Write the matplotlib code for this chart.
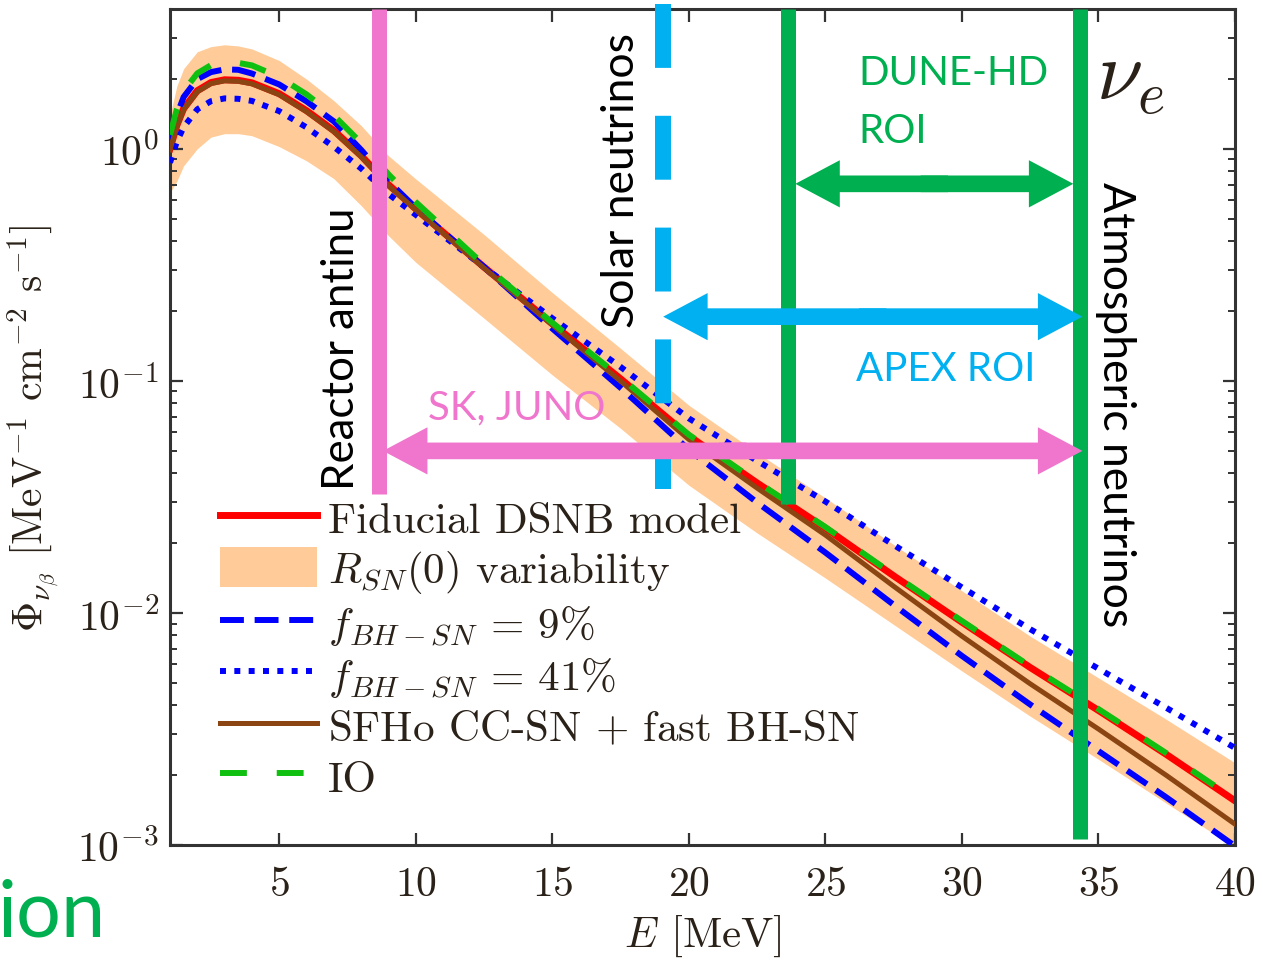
import matplotlib
matplotlib.use("Agg")
import matplotlib.pyplot as plt
from matplotlib.patches import FancyArrowPatch
from matplotlib.ticker import LogLocator, NullFormatter

plt.rcParams["font.family"] = "serif"
plt.rcParams["font.serif"] = ["cmr10"]
plt.rcParams["mathtext.fontset"] = "cm"
plt.rcParams["axes.formatter.use_mathtext"] = True

# energy grid [MeV]
energy = [1, 1.25, 1.5, 2, 2.5, 3, 3.5, 4, 5, 6, 7, 8, 9, 10, 12.5, 15,
          17.5, 20, 22.5, 25, 27.5, 30, 32.5, 35, 37.5, 40]

# nu_e flux [MeV^-1 cm^-2 s^-1]
fiducial = [1.00, 1.26, 1.489, 1.778, 1.928, 1.982, 1.972, 1.923, 1.726, 1.459,
            1.197, 0.933, 0.700, 0.550, 0.309, 0.176, 0.102, 0.0579, 0.0363,
            0.0232, 0.01445, 0.00912, 0.00582, 0.00380, 0.00245, 0.00155]
band_hi = [1.387, 1.862, 2.213, 2.618, 2.754, 2.805, 2.773, 2.692, 2.399, 1.995,
           1.611, 1.259, 0.933, 0.741, 0.427, 0.240, 0.138, 0.0785, 0.0490,
           0.0313, 0.0197, 0.01245, 0.00794, 0.00525, 0.00347, 0.00226]
band_lo = [0.646, 0.724, 0.845, 1.0, 1.122, 1.161, 1.161, 1.138, 1.021, 0.887,
           0.743, 0.569, 0.422, 0.324, 0.186, 0.106, 0.0624, 0.0355, 0.0221,
           0.01413, 0.00891, 0.00562, 0.00359, 0.00234, 0.00151, 0.000977]
fbh_9 = [1.096, 1.396, 1.671, 1.995, 2.138, 2.198, 2.188, 2.109, 1.892, 1.600,
         1.312, 0.989, 0.724, 0.556, 0.309, 0.168, 0.0933, 0.0505, 0.0299,
         0.0182, 0.01084, 0.00653, 0.00403, 0.00254, 0.00160, 0.000989]
fbh_41 = [0.871, 1.072, 1.239, 1.479, 1.603, 1.648, 1.641, 1.607, 1.452, 1.236,
          1.019, 0.822, 0.638, 0.519, 0.309, 0.186, 0.1148, 0.0689, 0.0452,
          0.0302, 0.01963, 0.01288, 0.00851, 0.00575, 0.00389, 0.00262]
sfho = [0.99, 1.25, 1.474, 1.760, 1.909, 1.962, 1.952, 1.904, 1.709, 1.444,
        1.185, 0.924, 0.693, 0.545, 0.306, 0.174, 0.0997, 0.0559, 0.0345,
        0.02165, 0.01303, 0.00794, 0.00495, 0.00316, 0.00199, 0.00123]
io = [1.148, 1.479, 1.770, 2.113, 2.291, 2.355, 2.344, 2.286, 2.037, 1.714,
      1.390, 1.059, 0.776, 0.589, 0.316, 0.178, 0.1035, 0.0586, 0.0367,
      0.02344, 0.01462, 0.00923, 0.00589, 0.00385, 0.00248, 0.00157]

# detection windows: energy [MeV], lower end of the marker line
reactor_E, reactor_low = 8.66, 0.0326
solar_E, solar_low = 19.06, 0.0342
dune_E, dune_low = 23.64, 0.0295
atmo_E, atmo_low = 34.33, 0.00106

# ROI arrows: (E_left, E_right, flux level)
dune_roi = (23.9, 34.08, 0.706)
apex_roi = (19.06, 34.41, 0.189)
sk_roi = (8.80, 34.41, 0.0499)

PINK = "#EF76CC"
CYAN = "#00B0F0"
GREEN = "#00B050"
INK = "#2a2119"

fig = plt.figure(figsize=(12.63, 9.62), dpi=100)
ax = fig.add_axes([170 / 1263, 1 - 846 / 962, 1065 / 1263, 836 / 962])

ax.fill_between(energy, band_lo, band_hi, color="#FFCC99", lw=0,
                label=r"$R_{SN}(0)$ variability", zorder=1)
l_fid, = ax.plot(energy, fiducial, color="#FF0000", lw=5, zorder=2,
                 label="Fiducial DSNB model")
l_9, = ax.plot(energy, fbh_9, color="#0000FF", lw=4.3, dashes=(4.0, 1.8),
               zorder=3, label=r"$f_{BH-SN}\,=\,9\%$")
l_41, = ax.plot(energy, fbh_41, color="#0000FF", lw=4.3, dashes=(1, 1.4),
                zorder=3, label=r"$f_{BH-SN}\,=\,41\%$")
l_sf, = ax.plot(energy, sfho, color="#8B4513", lw=3.6, zorder=4,
                label="SFHo CC-SN $+$ fast BH-SN")
l_io, = ax.plot(energy, io, color="#10C010", lw=4.3, dashes=(4.5, 5),
                zorder=5, label="IO")

ax.set_yscale("log")
ax.set_xlim(1, 40)
ax.set_ylim(1e-3, 4)
ax.set_xticks([5, 10, 15, 20, 25, 30, 35, 40])
ax.yaxis.set_major_locator(LogLocator(base=10, numticks=10))
ax.yaxis.set_minor_locator(LogLocator(base=10, subs=range(2, 10), numticks=20))
ax.yaxis.set_minor_formatter(NullFormatter())
ax.tick_params(which="both", direction="in", top=True, right=True,
               colors="#333333", labelcolor=INK, labelsize=30)
ax.tick_params(which="major", length=9, width=1.6)
ax.tick_params(which="minor", length=5, width=1.4)
ax.tick_params(axis="x", pad=15)
ax.tick_params(axis="y", pad=8)
for sp in ax.spines.values():
    sp.set_linewidth(2.2)
    sp.set_color("#333333")

ax.set_xlabel(r"$E$ [MeV]", fontsize=31, color=INK, labelpad=7)
ax.set_ylabel(r"$\Phi_{\nu_\beta}$ [MeV$^{-1}$ cm$^{-2}$ s$^{-1}$]",
              fontsize=30, color=INK, labelpad=10)

handles = [l_fid, ax.collections[0], l_9, l_41, l_sf, l_io]
leg = ax.legend(handles=handles, loc="upper left",
                bbox_to_anchor=(0.047, 0.416), frameon=False, fontsize=31,
                handlelength=2.25, handleheight=1.05, handletextpad=0.25,
                labelspacing=0.17, borderpad=0, borderaxespad=0)
for t in leg.get_texts():
    t.set_color(INK)
leg.set_zorder(6)

# marker lines for the neighbouring backgrounds / detectors
ax.plot([reactor_E, reactor_E], [4.0, reactor_low], color=PINK, lw=10.8,
        solid_capstyle="butt", clip_on=False, zorder=7)
ax.plot([solar_E, solar_E], [4.2, solar_low], color=CYAN, lw=11.5,
        dashes=(4.0, 3.0), dash_capstyle="butt", clip_on=False, zorder=7)
ax.plot([dune_E, dune_E], [4.0, dune_low], color=GREEN, lw=10.8,
        solid_capstyle="butt", clip_on=False, zorder=7)
ax.plot([atmo_E, atmo_E], [4.0, atmo_low], color=GREEN, lw=10.8,
        solid_capstyle="butt", clip_on=False, zorder=7)


def double_arrow(span, color):
    left, right, level = span
    mid = 0.5 * (left + right)
    style = "simple,head_length=32,head_width=34,tail_width=12"
    # two halves overlapping a little so no seam shows in the middle
    for start, end in ((mid + 0.5, left), (mid - 0.5, right)):
        ax.add_patch(FancyArrowPatch((start, level), (end, level),
                                     arrowstyle=style, mutation_scale=1,
                                     color=color, lw=0, shrinkA=0, shrinkB=0,
                                     clip_on=False, zorder=8))


double_arrow(dune_roi, GREEN)
double_arrow(apex_roi, CYAN)
double_arrow(sk_roi, PINK)

sans = "Lato"
ax.text(8.03, 0.0342, "Reactor antinu", family=sans, fontsize=31.5,
        rotation=90, ha="right", va="bottom", color="black", zorder=9)
ax.text(18.29, 0.171, "Solar neutrinos", family=sans, fontsize=32,
        rotation=90, ha="right", va="bottom", color="black", zorder=9)
ax.text(34.88, 0.728, "Atmospheric neutrinos", family=sans, fontsize=32,
        rotation=-90, ha="left", va="top", color="black", zorder=9)
ax.text(26.22, 1.905, "DUNE-HD", family=sans, fontsize=29, color=GREEN,
        ha="left", va="baseline", zorder=9)
ax.text(26.22, 1.07, "ROI", family=sans, fontsize=29, color=GREEN,
        ha="left", va="baseline", zorder=9)
ax.text(26.13, 0.101, "APEX ROI", family=sans, fontsize=29, color=CYAN,
        ha="left", va="baseline", zorder=9)
ax.text(10.45, 0.0686, "SK, JUNO", family=sans, fontsize=29, color=PINK,
        ha="left", va="baseline", zorder=9)
ax.text(34.9, 1.64, r"$\nu_e$", fontsize=60, color=INK,
        ha="left", va="baseline", zorder=9)

fig.text(-2 / 1263, 1 - 937 / 962, "ion", family=sans, fontsize=57,
         color=GREEN, ha="left", va="baseline")

fig.savefig("out.png", dpi=100)
